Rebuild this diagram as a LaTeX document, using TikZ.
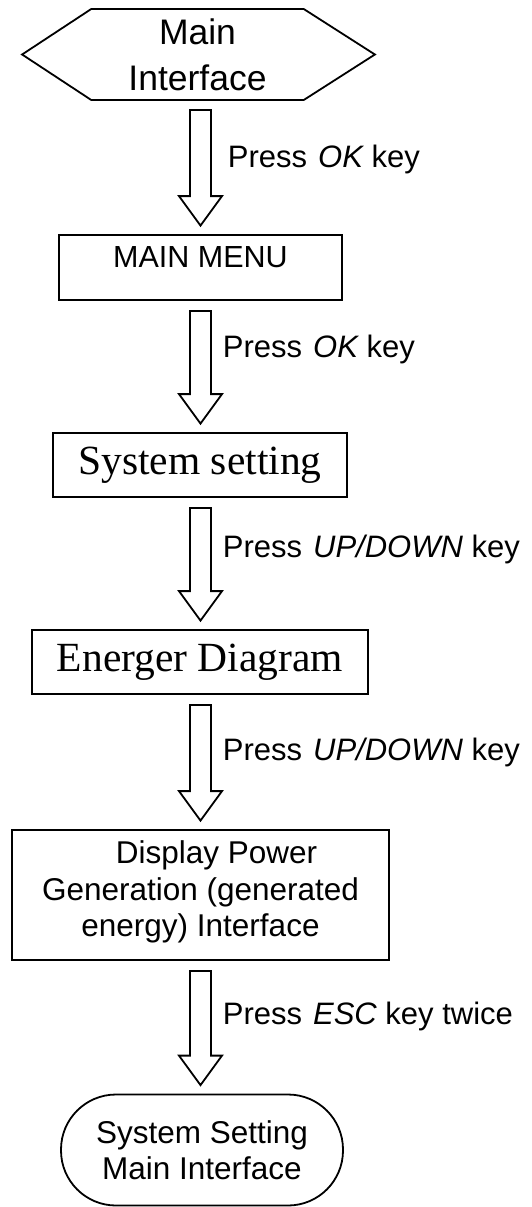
\documentclass[tikz,border=0pt]{standalone}
\usepackage{fontspec}
\setmainfont{Liberation Serif}
\setsansfont{Liberation Sans}
\usetikzlibrary{calc}
\begin{document}
\begin{tikzpicture}[x=1pt,y=-1pt,
  line width=1.8pt,
  sansbox/.style={draw, rectangle, inner sep=0pt, align=center,
    font=\sffamily\fontsize{31.5}{36.5}\selectfont},
  serifbox/.style={draw, rectangle, inner sep=0pt,
    font=\rmfamily\fontsize{41.5}{48}\selectfont, text height=28pt, text depth=10pt},
  lab/.style={anchor=base west, inner sep=0pt, font=\sffamily\fontsize{31}{36}\selectfont},
  fatarrow/.style={draw, fill=white, line join=miter}
]
\useasboundingbox (0,0) rectangle (532,1207);

% nodes
\node[inner sep=0pt, minimum width=211pt, minimum height=89pt, align=center,
  font=\sffamily\fontsize{35.5}{46}\selectfont] (hex) at (197.5,54.5) {Main\\Interface};
\draw (hex.north west) -- (hex.north east) -- ($(hex.east)+(71,0)$)
  -- (hex.south east) -- (hex.south west) -- ($(hex.west)+(-69,0)$) -- cycle;

\node[sansbox, minimum width=283pt, minimum height=65pt, text height=24pt, text depth=24pt,
  font=\sffamily\fontsize{30.5}{36}\selectfont] (menu) at (200.5,267.5) {MAIN MENU};

\node[serifbox, minimum width=294pt, minimum height=64pt] (sys) at (200,465) {System setting};

\node[serifbox, minimum width=336pt, minimum height=64pt] (ene) at (200,662) {Energer Diagram};

\node[sansbox, minimum width=377pt, minimum height=130pt] (disp) at (200.5,895)
  {\hspace*{32pt}Display Power\\Generation (generated\\energy) Interface\rule[-12pt]{0pt}{1pt}};

\node[sansbox, minimum width=282pt, minimum height=111pt, rounded corners=55pt] (term) at (202,1150)
  {System Setting\\Main Interface};

% fat arrows
\newcommand\fatarr[2]{%
  \draw[fatarrow] let \p1=(#1.south), \p2=(#2.north) in
    (190pt,\y1-10pt) -- (211pt,\y1-10pt) -- (211pt,\y2+38pt) -- (222pt,\y2+38pt)
    -- (200.5pt,\y2+8.5pt) -- (179pt,\y2+38pt) -- (190pt,\y2+38pt) -- cycle;}
\fatarr{hex}{menu}
\fatarr{menu}{sys}
\fatarr{sys}{ene}
\fatarr{ene}{disp}
\fatarr{disp}{term}

% labels
\node[lab] (l1) at (227,167) {Press\hspace{11pt}{\itshape OK} key};
\node[lab] (l2) at (222,357) {Press\hspace{11pt}{\itshape OK} key};
\node[lab] (l3) at (222,557) {Press\hspace{11pt}{\itshape UP/DOWN} key};
\node[lab] (l4) at (222,760) {Press\hspace{11pt}{\itshape UP/DOWN} key};
\node[lab] (l5) at (222,1024) {Press\hspace{11pt}{\itshape ESC} key twice};
\end{tikzpicture}
\end{document}
